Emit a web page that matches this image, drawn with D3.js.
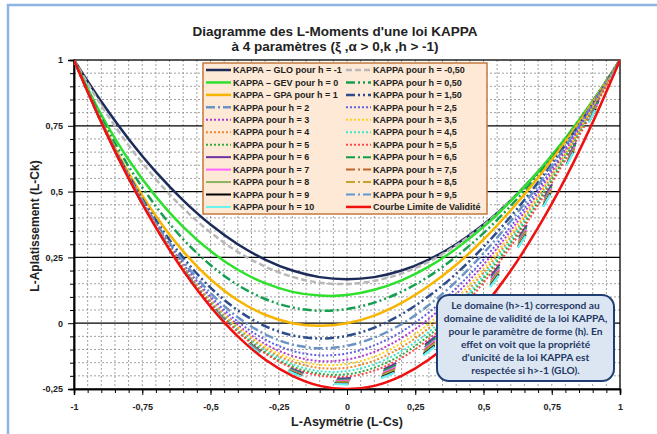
<!DOCTYPE html>
<html>
<head>
<meta charset="utf-8">
<script src="https://cdn.jsdelivr.net/npm/d3@7"></script>
<style>
  body { margin: 0; background: #fff; }
  text { font-family: "Liberation Sans", Arial, sans-serif; }
</style>
</head>
<body>
<div id="chart"></div>
<script>
// L-asymmetry grid (tau3) shared by every curve
var tau3 = [-1,-0.9,-0.8,-0.7,-0.6,-0.5,-0.4,-0.3,-0.2,-0.1,0,0.1,0.2,0.3,0.4,0.5,0.6,0.7,0.8,0.9,1];

// L-kurtosis (tau4), one array per h
var kGLO  = [1,0.842,0.700,0.575,0.467,0.375,0.300,0.242,0.200,0.175,0.167,0.175,0.200,0.242,0.300,0.375,0.467,0.575,0.700,0.842,1];
var kHm05 = [1,0.827,0.676,0.547,0.437,0.345,0.271,0.215,0.176,0.154,0.149,0.161,0.189,0.234,0.295,0.372,0.466,0.575,0.701,0.843,1];
var kGEV  = [1,0.792,0.621,0.481,0.366,0.274,0.203,0.152,0.119,0.105,0.107,0.127,0.163,0.215,0.283,0.366,0.464,0.576,0.703,0.844,1];
var kH05  = [1,0.780,0.596,0.444,0.319,0.221,0.145,0.092,0.060,0.047,0.054,0.078,0.120,0.178,0.253,0.342,0.446,0.564,0.696,0.842,1];
var kGPA  = [1,0.768,0.571,0.407,0.273,0.167,0.087,0.032,0.000,-0.010,0.000,0.029,0.077,0.142,0.222,0.318,0.429,0.553,0.690,0.839,1];
var kH15  = [1,0.766,0.563,0.391,0.249,0.135,0.049,-0.011,-0.046,-0.058,-0.048,-0.017,0.034,0.103,0.188,0.290,0.406,0.535,0.678,0.833,1];
var kH2   = [1,0.765,0.559,0.382,0.235,0.115,0.023,-0.042,-0.081,-0.095,-0.086,-0.055,-0.003,0.069,0.159,0.266,0.388,0.524,0.672,0.831,1];
var kH25  = [1,0.764,0.556,0.377,0.225,0.102,0.006,-0.062,-0.105,-0.122,-0.115,-0.084,-0.032,0.041,0.133,0.242,0.368,0.509,0.662,0.826,1];
var kH3   = [1,0.763,0.554,0.372,0.218,0.092,-0.007,-0.079,-0.124,-0.144,-0.138,-0.109,-0.056,0.017,0.111,0.223,0.352,0.496,0.654,0.822,1];
var kH35  = [1,0.763,0.553,0.371,0.215,0.087,-0.014,-0.089,-0.136,-0.158,-0.155,-0.127,-0.075,-0.002,0.093,0.207,0.338,0.485,0.646,0.819,1];
var kH4   = [1,0.763,0.553,0.370,0.213,0.083,-0.020,-0.097,-0.146,-0.170,-0.169,-0.142,-0.091,-0.018,0.077,0.193,0.326,0.476,0.641,0.816,1];
var kH45  = [1,0.763,0.553,0.368,0.211,0.080,-0.025,-0.104,-0.156,-0.182,-0.182,-0.156,-0.106,-0.033,0.063,0.180,0.316,0.468,0.635,0.813,1];
var kH5   = [1,0.763,0.552,0.367,0.209,0.076,-0.030,-0.111,-0.165,-0.192,-0.194,-0.169,-0.120,-0.047,0.050,0.168,0.305,0.460,0.630,0.811,1];
var kH55  = [1,0.763,0.552,0.367,0.207,0.074,-0.033,-0.115,-0.170,-0.199,-0.203,-0.180,-0.132,-0.060,0.036,0.154,0.292,0.449,0.621,0.806,1];
var kH6   = [1,0.763,0.552,0.366,0.206,0.073,-0.036,-0.118,-0.174,-0.204,-0.209,-0.188,-0.141,-0.070,0.026,0.144,0.282,0.440,0.615,0.803,1];
var kH65  = [1,0.763,0.551,0.366,0.206,0.071,-0.037,-0.120,-0.177,-0.208,-0.214,-0.194,-0.148,-0.078,0.017,0.135,0.275,0.434,0.610,0.801,1];
var kH7   = [1,0.763,0.551,0.365,0.205,0.070,-0.039,-0.122,-0.180,-0.212,-0.218,-0.199,-0.155,-0.085,0.010,0.128,0.268,0.428,0.606,0.798,1];
var kH75  = [1,0.763,0.551,0.365,0.204,0.069,-0.040,-0.124,-0.182,-0.215,-0.222,-0.204,-0.160,-0.091,0.004,0.122,0.262,0.423,0.602,0.796,1];
var kH8   = [1,0.763,0.551,0.365,0.204,0.069,-0.041,-0.126,-0.184,-0.217,-0.225,-0.208,-0.164,-0.095,-0.001,0.117,0.257,0.419,0.599,0.795,1];
var kH85  = [1,0.763,0.551,0.364,0.203,0.068,-0.042,-0.127,-0.186,-0.219,-0.228,-0.211,-0.168,-0.099,-0.005,0.113,0.253,0.416,0.597,0.793,1];
var kH9   = [1,0.763,0.551,0.364,0.203,0.068,-0.043,-0.128,-0.187,-0.221,-0.230,-0.213,-0.170,-0.102,-0.009,0.110,0.250,0.413,0.595,0.792,1];
var kH95  = [1,0.763,0.551,0.364,0.203,0.067,-0.043,-0.128,-0.188,-0.223,-0.231,-0.215,-0.173,-0.105,-0.011,0.107,0.248,0.411,0.593,0.791,1];
var kH10  = [1,0.763,0.551,0.364,0.203,0.067,-0.044,-0.129,-0.189,-0.223,-0.233,-0.217,-0.175,-0.107,-0.013,0.105,0.246,0.409,0.592,0.791,1];
var kLimit = [1,0.763,0.550,0.363,0.200,0.063,-0.050,-0.138,-0.200,-0.238,-0.250,-0.238,-0.200,-0.138,-0.050,0.063,0.200,0.363,0.550,0.763,1];

var tickX = [-1,-0.75,-0.5,-0.25,0,0.25,0.5,0.75,1];
var tickY = [-0.25,0,0.25,0.5,0.75,1];

var noteLines = [
  "Le domaine (h>-1) correspond au",
  "domaine de validité de la loi KAPPA,",
  "pour le paramètre de forme (h). En",
  "effet on voit que la propriété",
  "d'unicité de la loi KAPPA est",
  "respectée si h>-1 (GLO)."
];

// series in legend order (row by row, two columns)
var DDOT = "9,3,2,3,2,3", DDASH = "9,3,2,3", DOT = "2,2", HATCH = "14,34";
var series = [
  {label: "KAPPA – GLO pour h = -1", v: kGLO,  c: "#1c2b5a", dash: null, w: 2.5},
  {label: "KAPPA pour h = -0,50",    v: kHm05, c: "#b8b8b8", dash: "6,3", w: 2.5},
  {label: "KAPPA – GEV pour h = 0",  v: kGEV,  c: "#2ee02e", dash: null, w: 2.5},
  {label: "KAPPA pour h = 0,50",     v: kH05,  c: "#14a050", dash: DDOT, w: 2.5},
  {label: "KAPPA – GPA pour h = 1",  v: kGPA,  c: "#f7b500", dash: null, w: 2.5},
  {label: "KAPPA pour h = 1,50",     v: kH15,  c: "#2c4c8c", dash: DDOT, w: 2.5},
  {label: "KAPPA pour h = 2",        v: kH2,   c: "#6a93c6", dash: DDASH, w: 2.5},
  {label: "KAPPA pour h = 2,5",      v: kH25,  c: "#6060e0", dash: DOT, w: 2},
  {label: "KAPPA pour h = 3",        v: kH3,   c: "#b23ad6", dash: DOT, w: 2},
  {label: "KAPPA pour h = 3,5",      v: kH35,  c: "#ffd21e", dash: DOT, w: 2},
  {label: "KAPPA pour h = 4",        v: kH4,   c: "#f08a2a", dash: DOT, w: 2},
  {label: "KAPPA pour h = 4,5",      v: kH45,  c: "#3fe6c8", dash: DOT, w: 2},
  {label: "KAPPA pour h = 5",        v: kH5,   c: "#2fae3e", dash: DOT, w: 2},
  {label: "KAPPA pour h = 5,5",      v: kH55,  c: "#ff4a4a", dash: DOT, w: 2},
  {label: "KAPPA pour h = 6",        v: kH6,   c: "#7030a0", dash: null, w: 2, plotDash: HATCH},
  {label: "KAPPA pour h = 6,5",      v: kH65,  c: "#0fa048", dash: DDASH, w: 2, plotDash: HATCH},
  {label: "KAPPA pour h = 7",        v: kH7,   c: "#ff66ff", dash: null, w: 2, plotDash: HATCH},
  {label: "KAPPA pour h = 7,5",      v: kH75,  c: "#c0652b", dash: DDASH, w: 2, plotDash: HATCH},
  {label: "KAPPA pour h = 8",        v: kH8,   c: "#8db360", dash: null, w: 2, plotDash: HATCH},
  {label: "KAPPA pour h = 8,5",      v: kH85,  c: "#c9a227", dash: DDASH, w: 2, plotDash: HATCH},
  {label: "KAPPA pour h = 9",        v: kH9,   c: "#000000", dash: null, w: 2, plotDash: HATCH},
  {label: "KAPPA pour h = 9,5",      v: kH95,  c: "#5b9bd5", dash: DDASH, w: 2, plotDash: HATCH},
  {label: "KAPPA pour h = 10",       v: kH10,  c: "#66f5f0", dash: null, w: 2, plotDash: HATCH},
  {label: "Courbe Limite de Validité", v: kLimit, c: "#f01010", dash: null, w: 2.5}
];

var W = 657, H = 434;
var margin = {top: 60, right: 37, bottom: 45, left: 74},
    width = W - margin.left - margin.right,
    height = H - margin.top - margin.bottom;

function fmt(d) { return String(d).replace(".", ","); }

var svg = d3.select("#chart").append("svg")
    .attr("width", W)
    .attr("height", H);

// light blue frame of the chart area
svg.append("rect")
  .attr("x", 8).attr("y", 5)
  .attr("width", 700).attr("height", 500)
  .attr("fill", "none")
  .attr("stroke", "#8db4e2")
  .attr("stroke-width", 2.5);

// title
svg.append("text")
  .attr("x", 335).attr("y", 36)
  .attr("text-anchor", "middle")
  .style("font-size", "13.5px").style("font-weight", "bold").style("fill", "#222")
  .text("Diagramme des L-Moments d'une loi KAPPA");
svg.append("text")
  .attr("x", 335).attr("y", 51)
  .attr("text-anchor", "middle")
  .style("font-size", "13.5px").style("font-weight", "bold").style("fill", "#222")
  .text("à 4 paramètres (ξ ,α > 0,k ,h > -1)");

var g = svg.append("g")
    .attr("transform", "translate(" + margin.left + "," + margin.top + ")");

var x = d3.scaleLinear().domain([-1, 1]).range([0, width]);
var y = d3.scaleLinear().domain([-0.25, 1]).range([height, 0]);

var minorX = d3.range(-19, 20).map(function(i) { return i * 0.05; });
var minorY = d3.range(-4, 20).map(function(i) { return i * 0.05; })
    .filter(function(d) { return Math.abs(d / 0.25 - Math.round(d / 0.25)) > 0.01; });

// minor grid
g.append("g").selectAll("line")
  .data(minorX).enter().append("line")
  .attr("x1", function(d) { return x(d); }).attr("x2", function(d) { return x(d); })
  .attr("y1", 0).attr("y2", height)
  .attr("stroke", "#8a8a8a").attr("stroke-width", 0.8).attr("stroke-dasharray", "2,2");
g.append("g").selectAll("line")
  .data(minorY).enter().append("line")
  .attr("x1", 0).attr("x2", width)
  .attr("y1", function(d) { return y(d); }).attr("y2", function(d) { return y(d); })
  .attr("stroke", "#8a8a8a").attr("stroke-width", 0.8).attr("stroke-dasharray", "2,2");

// major horizontal grid
g.append("g").selectAll("line")
  .data(tickY.slice(1, -1)).enter().append("line")
  .attr("x1", 0).attr("x2", width)
  .attr("y1", function(d) { return y(d); }).attr("y2", function(d) { return y(d); })
  .attr("stroke", "#000").attr("stroke-width", 1.3);

// plot border
g.append("rect")
  .attr("width", width).attr("height", height)
  .attr("fill", "none").attr("stroke", "#000").attr("stroke-width", 1.3);

// axes
var xMinor = g.append("g").attr("transform", "translate(0," + height + ")")
  .call(d3.axisBottom(x).tickValues(minorX).tickSize(4).tickFormat(""));
var xMajor = g.append("g").attr("transform", "translate(0," + height + ")")
  .call(d3.axisBottom(x).tickValues(tickX).tickSize(6).tickPadding(9).tickFormat(fmt));
var yMinor = g.append("g")
  .call(d3.axisLeft(y).tickValues(minorY).tickSize(4).tickFormat(""));
var yMajor = g.append("g")
  .call(d3.axisLeft(y).tickValues(tickY).tickSize(6).tickPadding(5).tickFormat(fmt));
[xMinor, xMajor, yMinor, yMajor].forEach(function(a) {
  a.select(".domain").attr("stroke", "#000").attr("stroke-width", 1.5);
  a.selectAll(".tick line").attr("stroke", "#000");
  a.selectAll("text")
    .style("font-family", "'Liberation Sans', Arial, sans-serif")
    .style("font-size", "9px").style("font-weight", "bold").style("fill", "#222");
});

// axis titles
svg.append("text")
  .attr("x", 347).attr("y", 426)
  .attr("text-anchor", "middle")
  .style("font-size", "12.5px").style("font-weight", "bold").style("fill", "#222")
  .text("L-Asymétrie (L-Cs)");
svg.append("text")
  .attr("transform", "translate(39,226)rotate(-90)")
  .attr("text-anchor", "middle")
  .style("font-size", "12px").style("font-weight", "bold").style("fill", "#222")
  .text("L-Aplatissement (L-Ck)");

// curves
g.append("clipPath").attr("id", "plotclip")
  .append("rect").attr("width", width).attr("height", height);

var line = d3.line()
  .x(function(d) { return x(d[0]); })
  .y(function(d) { return y(d[1]); })
  .curve(d3.curveCatmullRom.alpha(0.5));

g.append("g").attr("clip-path", "url(#plotclip)")
  .selectAll("path")
  .data(series).enter().append("path")
  .attr("d", function(s) { return line(tau3.map(function(t, i) { return [t, s.v[i]]; })); })
  .attr("fill", "none")
  .attr("stroke", function(s) { return s.c; })
  .attr("stroke-width", function(s) { return s.w; })
  .attr("stroke-dasharray", function(s) { return s.plotDash || s.dash; });

// legend
var legend = svg.append("g");
legend.append("rect")
  .attr("x", 203).attr("y", 63)
  .attr("width", 284).attr("height", 151)
  .attr("fill", "#fde9d6")
  .attr("stroke", "#c47a3c").attr("stroke-width", 1.5);

var item = legend.selectAll(".item")
  .data(series).enter().append("g")
  .attr("transform", function(s, i) {
    var col = i % 2, row = Math.floor(i / 2);
    return "translate(" + (col === 0 ? 206 : 346) + "," + (70 + row * 12.45) + ")";
  });
item.append("line")
  .attr("x1", 0).attr("x2", 25)
  .attr("stroke", function(s) { return s.c; })
  .attr("stroke-width", function(s) { return s.w; })
  .attr("stroke-dasharray", function(s) { return s.dash; });
item.append("text")
  .attr("x", 27).attr("dy", "0.35em")
  .style("font-size", "9px").style("font-weight", "bold").style("fill", "#222")
  .text(function(s) { return s.label; });

// note box
var note = svg.append("g");
note.append("rect")
  .attr("x", 437).attr("y", 295)
  .attr("width", 177).attr("height", 86)
  .attr("rx", 12).attr("ry", 12)
  .attr("fill", "#dce6f2")
  .attr("stroke", "#1f3f74").attr("stroke-width", 2);
note.selectAll("text")
  .data(noteLines).enter().append("text")
  .attr("x", 525.5)
  .attr("y", function(d, i) { return 309 + i * 13; })
  .attr("text-anchor", "middle")
  .style("font-family", "Lato, 'Open Sans', sans-serif")
  .style("font-size", "10.2px").style("font-weight", "bold").style("fill", "#1f3864")
  .text(function(d) { return d; });
</script>
</body>
</html>
